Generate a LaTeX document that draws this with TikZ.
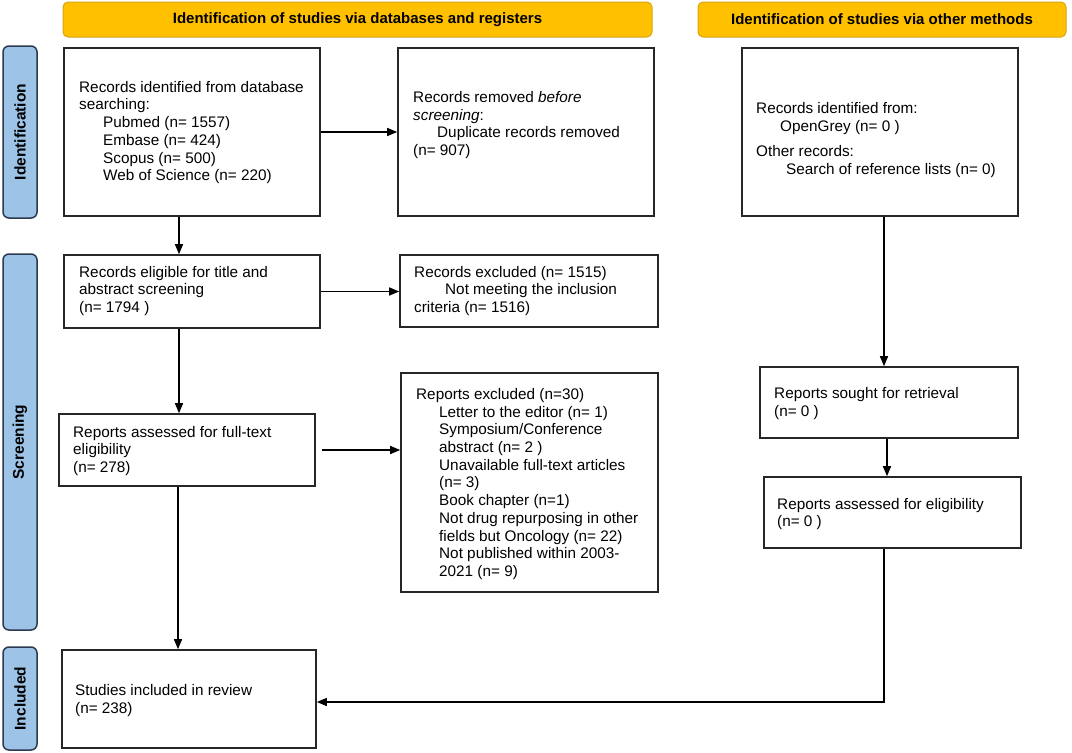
\documentclass[tikz,border=0pt]{standalone}
\usepackage{fontspec}
\setmainfont{Liberation Sans}
\usetikzlibrary{arrows.meta}
\definecolor{hdrfill}{HTML}{FFC000}
\definecolor{hdrdraw}{HTML}{D9A514}
\definecolor{sidefill}{HTML}{9DC3E6}
\definecolor{sidedraw}{HTML}{2B3A4F}
\definecolor{boxdraw}{HTML}{262626}
\begin{document}
\begin{tikzpicture}[x=1pt,y=-1pt,
 hdr/.style={draw=hdrdraw, fill=hdrfill, rounded corners=5pt, line width=1pt, inner sep=0pt, minimum height=35pt, font=\fontsize{15}{18}\selectfont\bfseries},
 side/.style={draw=sidedraw, fill=sidefill, rounded corners=6pt, line width=1.5pt, inner sep=0pt, rotate=90, minimum height=34pt, font=\fontsize{15.5}{18}\selectfont\bfseries},
 box/.style={draw=boxdraw, line width=1.6pt, inner sep=0pt, fill=white},
 txt/.style={anchor=west, inner sep=0pt, align=left, font=\fontsize{15.3}{17.7}\selectfont},
 arr/.style={line width=1.4pt, -{Triangle[length=10pt,width=8pt]}},
]
\useasboundingbox (0,0) rectangle (1072,753);
% headers
\node[hdr, minimum width=589pt] (h1) at (357.5,19.5) {Identification of studies via databases and registers};
\node[hdr, minimum width=368pt] (h2) at (882,19.5) {Identification of studies via other methods};
% side bars
\node[side, minimum width=172pt] (sid) at (20,132) {Identification};
\node[side, minimum width=376pt] (ssc) at (20,442) {Screening};
\node[side, minimum width=103pt] (sin) at (20,698.5) {Included};
% boxes
\node[box, minimum width=256pt, minimum height=168pt] (b1) at (192,132) {};
\node[box, minimum width=256pt, minimum height=168pt] (b2) at (526,132) {};
\node[box, minimum width=276pt, minimum height=168pt] (b3) at (880,132) {};
\node[box, minimum width=256pt, minimum height=73pt] (b4) at (192,291.5) {};
\node[box, minimum width=258pt, minimum height=72pt] (b5) at (529,291) {};
\node[box, minimum width=257pt, minimum height=219pt] (b6) at (529.5,482.5) {};
\node[box, minimum width=256pt, minimum height=72pt] (b7) at (187,450) {};
\node[box, minimum width=258pt, minimum height=71pt] (s1) at (889,402.5) {};
\node[box, minimum width=257pt, minimum height=71pt] (s2) at (892.5,512.5) {};
\node[box, minimum width=254pt, minimum height=98pt] (b8) at (189,699) {};
% texts
\node[txt] (t1) at (79,132.5) {Records identified from database\\searching:\\\hspace*{24pt}Pubmed (n= 1557)\\\hspace*{24pt}Embase (n= 424)\\\hspace*{24pt}Scopus (n= 500)\\\hspace*{24pt}Web of Science (n= 220)};
\node[txt] (t2) at (413,125) {Records removed \textit{before}\\\textit{screening}:\\\hspace*{24pt}Duplicate records removed\\(n= 907)};
\node[txt] (t3) at (756,140) {Records identified from:\\\hspace*{24pt}OpenGrey (n= 0 )\\[7pt]Other records:\\\hspace*{30pt}Search of reference lists (n= 0)};
\node[txt] (t4) at (79,291) {Records eligible for title and\\abstract screening\\(n= 1794 )};
\node[txt] (t5) at (414,291) {Records excluded (n= 1515)\\\hspace*{31pt}Not meeting the inclusion\\criteria (n= 1516)};
\node[txt] (t6) at (416,484) {Reports excluded (n=30)\\\hspace*{23pt}Letter to the editor (n= 1)\\\hspace*{23pt}Symposium/Conference\\\hspace*{23pt}abstract (n= 2 )\\\hspace*{23pt}Unavailable full-text articles\\\hspace*{23pt}(n= 3)\\\hspace*{23pt}Book chapter (n=1)\\\hspace*{23pt}Not drug repurposing in other\\\hspace*{23pt}fields but Oncology (n= 22)\\\hspace*{23pt}Not published within 2003-\\\hspace*{23pt}2021 (n= 9)};
\node[txt] (t7) at (73,451) {Reports assessed for full-text\\eligibility\\(n= 278)};
\node[txt] (t8) at (774,403.5) {Reports sought for retrieval\\(n= 0 )};
\node[txt] (t9) at (777,514) {Reports assessed for eligibility\\(n= 0 )};
\node[txt] (t10) at (75,700.5) {Studies included in review\\(n= 238)};
% connectors
\draw[arr] ([xshift=-13pt]b1.south) -- ([xshift=-13pt]b1.south |- b4.north);
\draw[arr] (b1.east) -- (b1.east -| b2.west);
\draw[arr] (b4.east) -- (b4.east -| b5.west);
\draw[arr] ([xshift=-13pt]b4.south) -- ([xshift=-13pt]b4.south |- b7.north);
\draw[arr, shorten <=6pt] (b7.east) -- (b7.east -| b6.west);
\draw[arr] ([xshift=-9pt]b7.south) -- ([xshift=-9pt]b7.south |- b8.north);
\draw[arr] ([xshift=4pt]b3.south) -- ([xshift=4pt]b3.south |- s1.north);
\draw[arr] ([xshift=-2pt]s1.south) -- ([xshift=-2pt]s1.south |- s2.north);
\draw[arr] ([xshift=-8.5pt]s2.south) |- ([yshift=-3pt]b8.east);
\end{tikzpicture}
\end{document}
